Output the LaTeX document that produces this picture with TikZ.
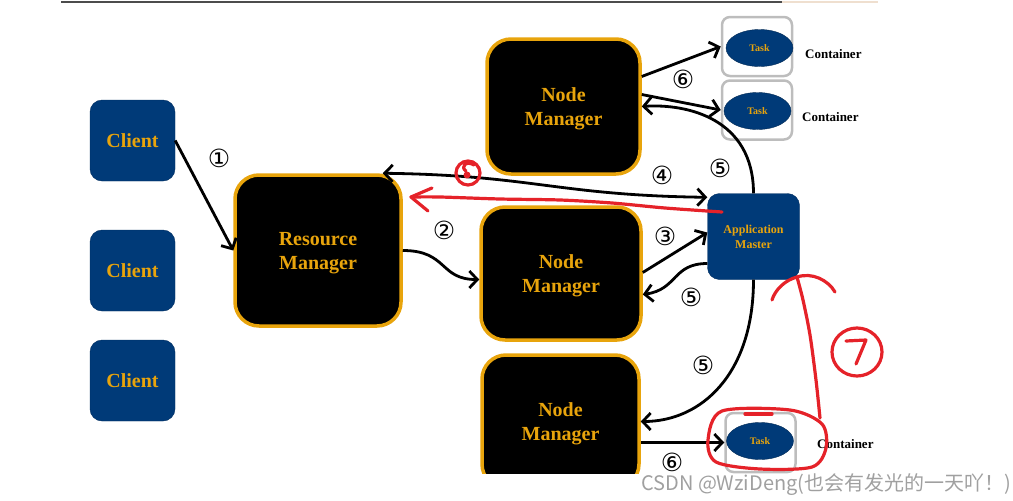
\documentclass[tikz,border=0pt]{standalone}
\usepackage{fontspec}
\setmainfont{Liberation Serif}
\newfontfamily\circfont{DejaVu Sans}
\newfontfamily\cjkfont{Noto Sans CJK SC}
\usetikzlibrary{positioning,arrows.meta,shapes.geometric}
\definecolor{yarnblue}{HTML}{003A78}
\definecolor{yarngold}{HTML}{E8A40C}
\definecolor{contgray}{HTML}{BDBDBD}
\definecolor{penred}{HTML}{E52229}
\definecolor{wmgray}{HTML}{A0A0A0}

\begin{document}
\begin{tikzpicture}[
  x=1pt, y=-1pt,
  client/.style={draw=yarnblue!80!black, fill=yarnblue, rounded corners=12pt, minimum width=85pt, minimum height=81pt, inner sep=0pt, align=center, text=yarngold, font=\bfseries\fontsize{20}{22}\selectfont},
  master/.style={client, minimum width=92pt, minimum height=86pt, font=\bfseries\fontsize{12}{15}\selectfont},
  mgr/.style={draw=yarngold, line width=3.5pt, fill=black, rounded corners=24pt, inner sep=0pt, text depth=0pt, align=center, text=yarngold, font=\bfseries\fontsize{20}{24}\selectfont},
  cont/.style={draw=contgray, line width=2.5pt, rounded corners=8pt, minimum width=70pt, minimum height=59pt},
  task/.style={ellipse, draw=yarnblue!70!black, fill=yarnblue, minimum width=67pt, minimum height=37pt, inner sep=0pt, text=yarngold, font=\bfseries\fontsize{10}{12}\selectfont},
  clabel/.style={anchor=west, inner sep=0pt, font=\bfseries\fontsize{13}{15}\selectfont},
  num/.style={inner sep=0pt, font=\circfont\fontsize{25}{25}\selectfont},
  arr/.style={line width=2.8pt, -{Straight Barb[length=8pt,width=17pt]}},
  pen/.style={draw=penred, line width=3.2pt, line cap=round, line join=round}
]
\useasboundingbox (0,0) rectangle (1013,501);

\begin{scope}
\clip (0,0) rectangle (1013,473);
% top rule of the screenshot
\draw[line width=2pt, black!70] (61,2) -- (782,2);
\draw[line width=2pt, brown!25] (782,2) -- (878,2);

% clients and managers
\node[client] (cl1) at (132.5,140.5) {Client};
\node[client] (cl2) at (132.5,270.5) {Client};
\node[client] (cl3) at (132.5,380.5) {Client};
\node[mgr, minimum width=166pt, minimum height=151pt] (rm) at (318,250.5) {Resource\\Manager};
\node[mgr, minimum width=153pt, minimum height=135pt] (nm1) at (563.5,106.5) {Node\\Manager};
\node[mgr, minimum width=160pt, minimum height=133pt] (nm2) at (561,273.5) {Node\\Manager};
\node[mgr, minimum width=157pt, minimum height=133pt] (nm3) at (560.5,421.5) {Node\\Manager};
\node[master] (am) at (753.5,236.5) {Application\\Master};

% containers
\node[cont] (c1) at (757,46.5) {};
\node[cont] (c2) at (757,110) {};
\node[cont] (c3) at (760.5,442.5) {};
\node[task] (t1) at (759.5,48) {Task};
\node[task] (t2) at (757.5,111) {Task};
\node[task] (t3) at (760,441) {Task};
\node[clabel] (l1) at (805,54) {Container};
\node[clabel] (l2) at (802,117) {Container};
\node[clabel] (l3) at (817,444) {Container};

% arrows
\draw[arr] (cl1.east) -- (rm.west);
\draw[arr] (rm.east) .. controls +(45,0) and +(-40,0) .. ([yshift=-6pt]nm2.west);
\draw[arr] ([yshift=1pt]nm2.east) -- ([yshift=4pt]am.west);
\draw[arr, {Straight Barb[length=8pt,width=17pt]}-{Straight Barb[length=8pt,width=17pt]}] ([xshift=-20pt]rm.north east) .. controls +(150,2) and +(-150,-2) .. ([yshift=-4pt]am.north west);
\draw[arr] (am.north) .. controls +(0,-75) and +(45,-3) .. (nm1.east);
\draw[arr] ([yshift=30pt]nm1.east) -- (c1.west);
\draw[arr] ([yshift=12pt]nm1.east) -- (c2.west);
\draw[arr] ([yshift=-27pt]am.west) .. controls +(-35,0) and +(35,-5) .. ([yshift=-21pt]nm2.east);
\draw[arr] (am.south) .. controls +(0,95) and +(60,0) .. (nm3.east);
\draw[arr] (nm3.east |- c3.west) -- (c3.west);

% step numbers
\node[num] (n1) at (219,158) {①};
\node[num] (n2) at (444,230) {②};
\node[num] (n3) at (665,236) {③};
\node[num] (n4) at (662,175) {④};
\node[num] (n5a) at (720,168) {⑤};
\node[num] (n5b) at (691,297) {⑤};
\node[num] (n5c) at (703,365) {⑤};
\node[num] (n6a) at (683,79) {⑥};
\node[num] (n6b) at (672,462) {⑥};

% red pen marks
\draw[pen] plot[smooth] coordinates {(722,212) (665,208) (612,203) (560,200) (500,199) (440,197) (411,197)};
\draw[pen] (432,188) -- (411,197) -- (428,211);
\draw[pen] (468,173) circle (12);
\draw[pen] (474,165) .. controls (466,160) and (460,167) .. (466,171);
\fill[penred] (467,175) circle (3.5);
\draw[pen] plot[smooth cycle] coordinates {(722,411) (790,410) (822,424) (826,448) (812,467) (760,469) (716,462) (708,440)};
\draw[pen] (745,414) -- (772,414);
\draw[pen] plot[smooth] coordinates {(820,418) (816,380) (810,335) (803,300) (797,277)};
\draw[pen] (772,300) .. controls (775,290) and (785,280) .. (797,277);
\draw[pen] (797,277) .. controls (812,272) and (828,280) .. (835,292);
\draw[pen] (857,352) ellipse [x radius=25pt, y radius=24pt];
\draw[pen] (846,341) -- (866,340) -- (856,364);
\end{scope}

% watermark
\node[anchor=west, inner sep=0pt, text=wmgray, font=\cjkfont\fontsize{20}{20}\selectfont] (mark) at (641,485) {CSDN @WziDeng(也会有发光的一天吖！)};
\end{tikzpicture}
\end{document}
